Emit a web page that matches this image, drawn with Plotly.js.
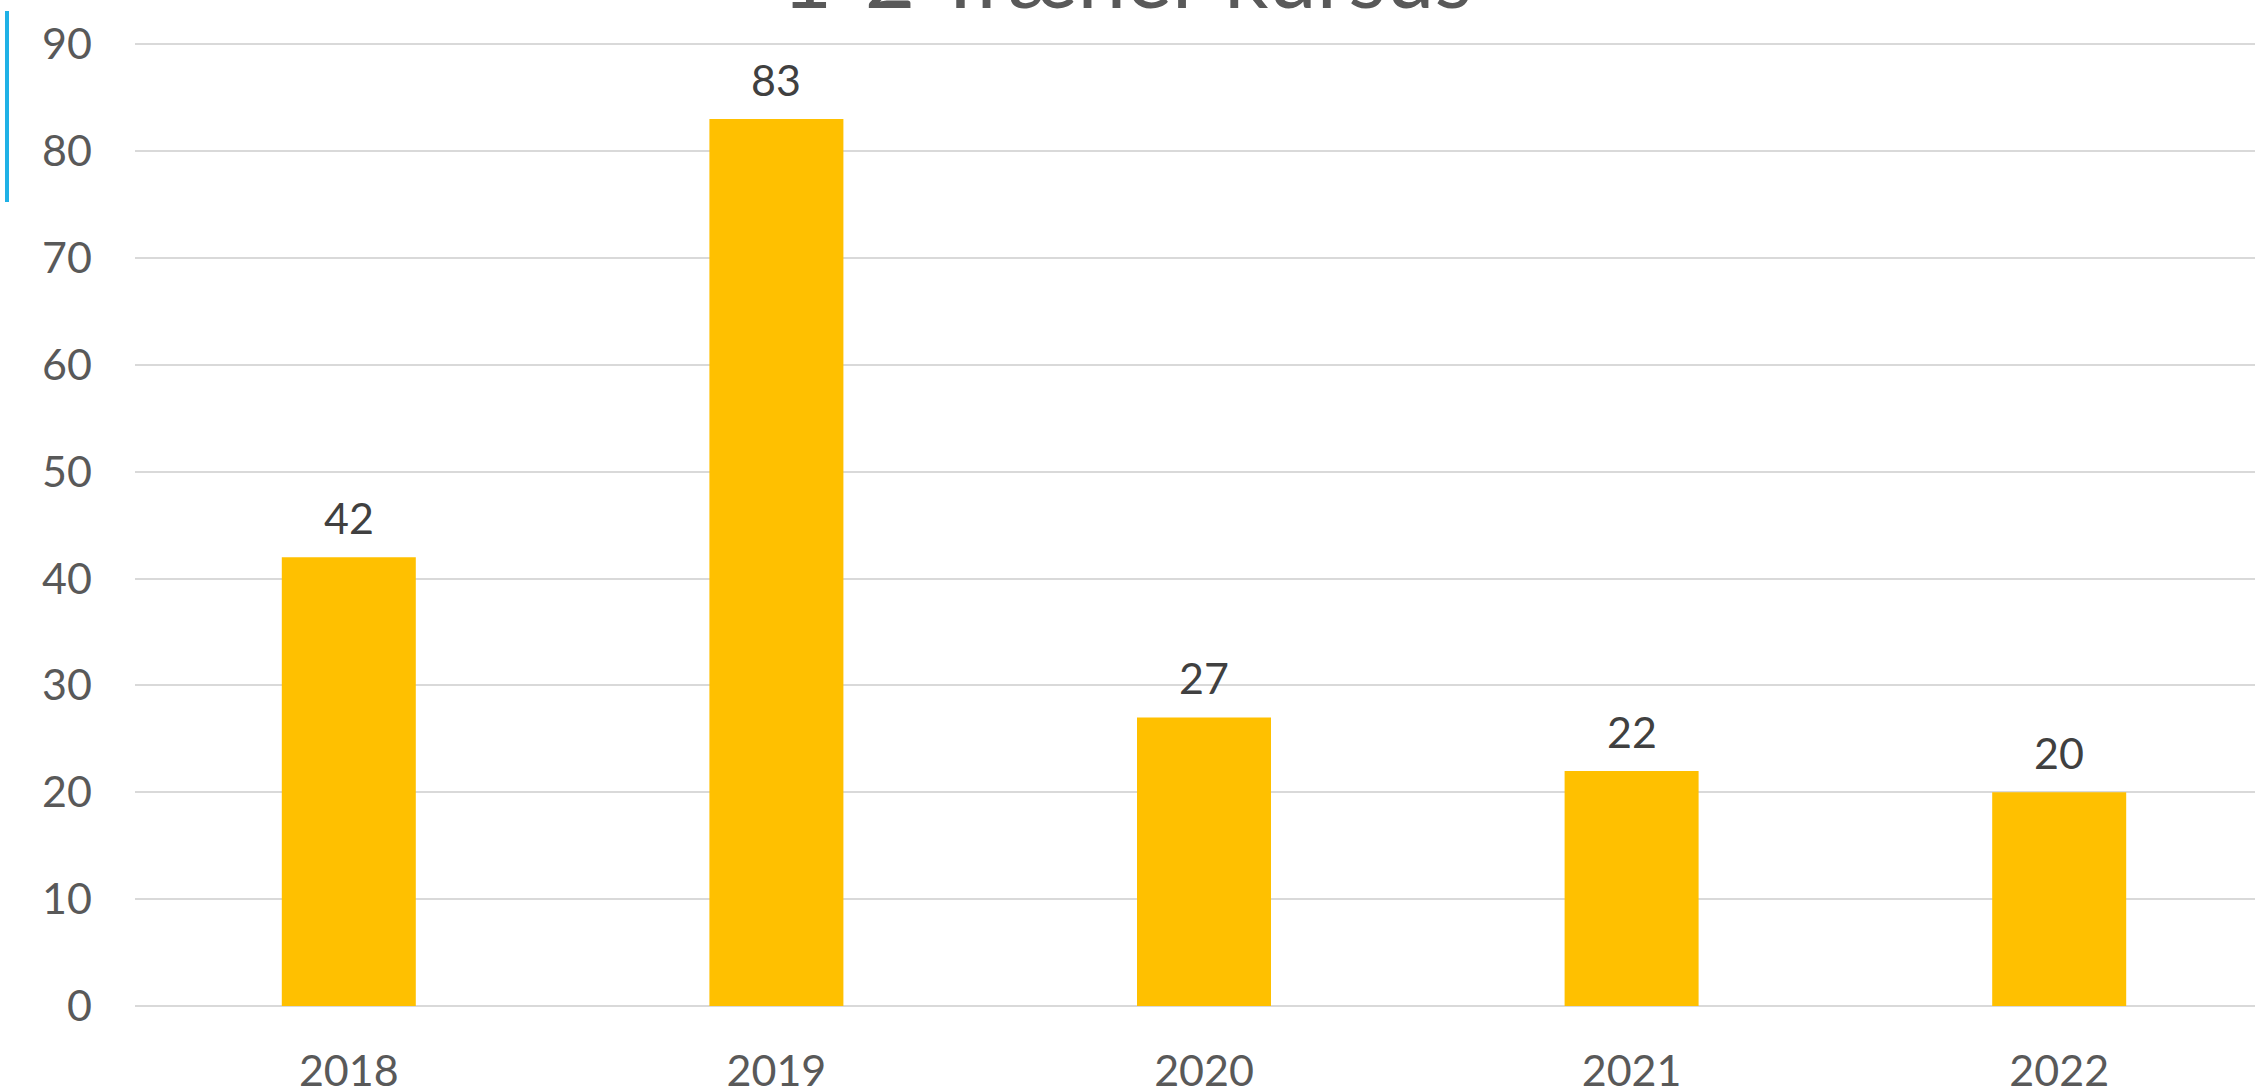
<!DOCTYPE html>
<html>
<head>
<meta charset="utf-8">
<script src="https://cdn.plot.ly/plotly-3.0.1.min.js"></script>
<style>
  html, body { margin: 0; padding: 0; overflow: hidden; background: #ffffff; width: 2255px; height: 1088px; }
  #chart { position: absolute; left: 0; top: -60px; width: 2290px; height: 1148px; }
</style>
</head>
<body>
<div id="chart"></div>
<script>
const chartTitle = "1-2 Træner kursus";
const years = ["2018", "2019", "2020", "2021", "2022"];
const participants = [42, 83, 27, 22, 20];
const yTickValues = [0, 10, 20, 30, 40, 50, 60, 70, 80, 90];

const fontFamily = "Lato, 'Open Sans', 'DejaVu Sans', sans-serif";

const trace = {
  type: "bar",
  x: years,
  y: participants,
  marker: { color: "#FFC000" },
  hoverinfo: "skip"
};

// data labels placed by category index on the category axis
const labels = years.map((yr, i) => ({
  x: i,
  y: participants[i],
  xref: "x",
  yref: "y",
  text: String(participants[i]),
  showarrow: false,
  yanchor: "bottom",
  yshift: 12,
  font: { family: fontFamily, size: 43, color: "#404040" }
}));

const layout = {
  width: 2290,
  height: 1148,
  margin: { l: 135, r: 17, t: 102, b: 82, pad: 0 },
  paper_bgcolor: "#ffffff",
  plot_bgcolor: "#ffffff",
  showlegend: false,
  bargap: 0.6866,
  font: { family: fontFamily, color: "#595959" },
  title: {
    text: chartTitle,
    font: { family: fontFamily, size: 87, color: "#595959" },
    xref: "container",
    yref: "container",
    x: 1127 / 2290,
    xanchor: "center",
    y: 1 - 68 / 1148,
    yanchor: "bottom"
  },
  xaxis: {
    type: "category",
    range: [-0.5, 4.5],
    showgrid: false,
    zeroline: false,
    showline: false,
    ticks: "",
    ticklabelstandoff: 36,
    tickfont: { family: fontFamily, size: 43, color: "#595959" }
  },
  yaxis: {
    range: [0, 90.2],
    tickmode: "array",
    tickvals: yTickValues,
    ticktext: yTickValues.map(String),
    showgrid: true,
    gridcolor: "#D9D9D9",
    gridwidth: 2,
    zeroline: true,
    zerolinecolor: "#D9D9D9",
    zerolinewidth: 2,
    showline: false,
    ticks: "",
    ticklabelstandoff: 42,
    tickfont: { family: fontFamily, size: 43, color: "#595959" }
  },
  annotations: labels,
  shapes: [{
    type: "line",
    xref: "paper",
    yref: "paper",
    x0: (7 - 135) / 2138,
    x1: (7 - 135) / 2138,
    y0: (1006 - 11) / 964,
    y1: (1006 - 202) / 964,
    line: { color: "#1FB1E6", width: 4 }
  }]
};

Plotly.newPlot("chart", [trace], layout, { displayModeBar: false, staticPlot: true });
</script>
</body>
</html>
